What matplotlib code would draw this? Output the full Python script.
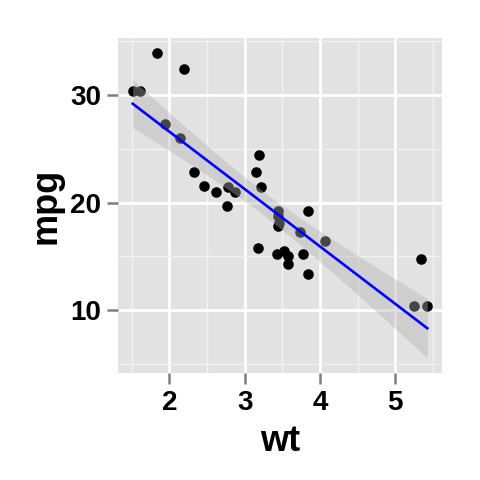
import numpy as np
import matplotlib
matplotlib.use('Agg')
import matplotlib.pyplot as plt

# mtcars: weight (1000 lbs) and miles per gallon
wt = [2.620, 2.875, 2.320, 3.215, 3.440, 3.460, 3.570, 3.190, 3.150, 3.440,
      3.440, 4.070, 3.730, 3.780, 5.250, 5.424, 5.345, 2.200, 1.615, 1.835,
      2.465, 3.520, 3.435, 3.840, 3.845, 1.935, 2.140, 1.513, 3.170, 2.770,
      3.570, 2.780]
mpg = [21.0, 21.0, 22.8, 21.4, 18.7, 18.1, 14.3, 24.4, 22.8, 19.2,
       17.8, 16.4, 17.3, 15.2, 10.4, 10.4, 14.7, 32.4, 30.4, 33.9,
       21.5, 15.5, 15.2, 13.3, 19.2, 27.3, 26.0, 30.4, 15.8, 19.7,
       15.0, 21.4]
xticks = [2, 3, 4, 5]
yticks = [10, 20, 30]
xminor = [1.5, 2.5, 3.5, 4.5, 5.5]
yminor = [5, 15, 25, 35]

plt.rcParams['font.family'] = ['Liberation Sans', 'DejaVu Sans']
plt.rcParams['font.weight'] = 'bold'

x = np.array(wt)
y = np.array(mpg)

# linear fit with 95% confidence band (like geom_smooth(method = lm))
n = len(x)
b, a = np.polyfit(x, y, 1)
resid = y - (a + b * x)
s = np.sqrt(np.sum(resid ** 2) / (n - 2))
xs = np.linspace(x.min(), x.max(), 80)
fit = a + b * xs
se = s * np.sqrt(1.0 / n + (xs - x.mean()) ** 2 / np.sum((x - x.mean()) ** 2))
tq = 2.0423  # qt(0.975, 30)
lo = fit - tq * se
hi = fit + tq * se

fig = plt.figure(figsize=(4.8, 4.8), dpi=100)
ax = fig.add_axes([118 / 480, 1 - 373 / 480, 324 / 480, 335 / 480])
ax.set_facecolor('#E2E2E2')

ax.scatter(x, y, s=58, color='black', linewidths=0, zorder=3)
ax.fill_between(xs, lo, hi, color='#B0B0B0', alpha=0.4, linewidth=0, zorder=4)
ax.plot(xs, fit, color='blue', linewidth=1.9, zorder=5)

xr = x.max() - x.min()
ax.set_xlim(x.min() - 0.05 * xr, x.max() + 0.05 * xr)
ymin = min(lo.min(), y.min())
ymax = max(hi.max(), y.max())
yr = ymax - ymin
ax.set_ylim(ymin - 0.05 * yr, ymax + 0.05 * yr)

ax.set_xticks(xticks)
ax.set_yticks(yticks)
ax.set_xticks(xminor, minor=True)
ax.set_yticks(yminor, minor=True)

ax.grid(which='major', color='white', linewidth=2.0)
ax.grid(which='minor', color='#F2F2F2', linewidth=0.9)
ax.set_axisbelow(True)
for sp in ax.spines.values():
    sp.set_visible(False)

ax.tick_params(which='major', length=8, width=1.8, color='#7F7F7F',
               labelsize=20, labelcolor='black', pad=4)
ax.tick_params(which='minor', length=0)

ax.set_xlabel('wt', fontsize=26, fontweight='bold', labelpad=6)
ax.set_ylabel('mpg', fontsize=26, fontweight='bold', labelpad=5)

fig.savefig('out.png', dpi=100)
